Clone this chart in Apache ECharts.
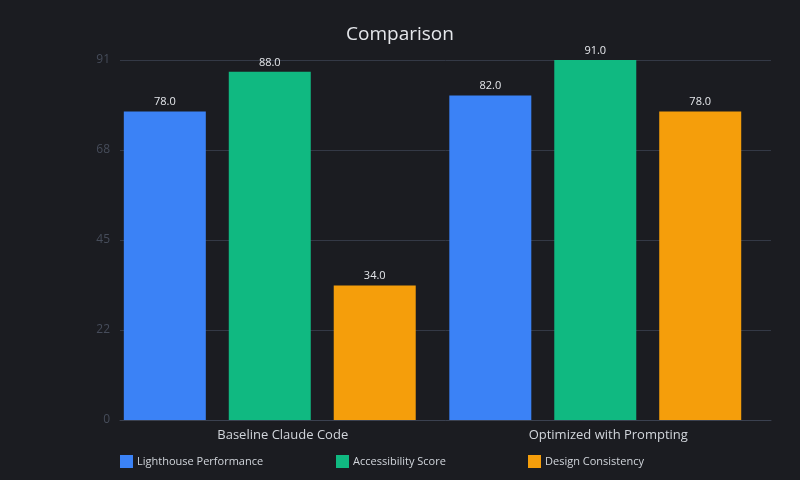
<!DOCTYPE html>
<html>
<head>
<meta charset="utf-8">
<script src="https://cdn.jsdelivr.net/npm/echarts@6/dist/echarts.min.js"></script>
<style>
  html, body { margin: 0; padding: 0; background: #1b1c21; }
  #chart { width: 800px; height: 480px; }
</style>
</head>
<body>
<div id="chart"></div>
<script>
const categories = ['Baseline Claude Code', 'Optimized with Prompting']
const seriesNames = ['Lighthouse Performance', 'Accessibility Score', 'Design Consistency']
const lighthouse = [78, 82]
const accessibility = [88, 91]
const consistency = [34, 78]
const colors = ['#3b82f6', '#10b981', '#f59e0b']
const legendLeft = [120, 336, 528]

const font = '"Open Sans", "Noto Sans", sans-serif'
const values = [lighthouse, accessibility, consistency]

const chart = echarts.init(document.getElementById('chart'))

const series = seriesNames.map((name, i) => ({
  name,
  type: 'bar',
  data: values[i],
  barWidth: 82,
  barGap: '28%',
  itemStyle: { color: colors[i] },
  label: {
    show: true,
    position: 'top',
    distance: 4,
    color: '#e5e7eb',
    fontSize: 11,
    fontFamily: font,
    formatter: (p) => p.value.toFixed(1),
  },
}))
// empty spacer so the bar group sits slightly left of the category centre
series.push({ name: '_spacer', type: 'bar', data: [], barWidth: 3 })

chart.setOption({
  backgroundColor: '#1b1c21',
  animation: false,
  title: {
    text: 'Comparison',
    left: 'center',
    top: 20,
    textStyle: { color: '#e5e7eb', fontSize: 19, fontWeight: 'normal', fontFamily: font },
  },
  legend: seriesNames.map((name, i) => ({
    data: [name],
    left: legendLeft[i],
    top: 455,
    padding: 0,
    itemWidth: 13,
    itemHeight: 13,
    itemGap: 4,
    icon: 'rect',
    textStyle: { color: '#d1d5db', fontSize: 11, fontFamily: font, padding: [0, 0, 0, -1] },
  })),
  grid: { left: 120, right: 29, top: 60, bottom: 60 },
  xAxis: {
    type: 'category',
    data: categories,
    axisLine: { lineStyle: { color: '#3b4150' } },
    axisTick: { show: false },
    axisLabel: { color: '#d1d5db', fontSize: 13, fontFamily: font, margin: 9 },
  },
  yAxis: {
    type: 'value',
    min: 0,
    max: 91,
    interval: 22.75,
    axisLine: { show: false },
    axisTick: { show: false },
    axisLabel: {
      color: '#464c5a',
      fontSize: 12,
      fontFamily: font,
      margin: 10,
      formatter: (v) => Math.floor(v),
    },
    splitLine: { lineStyle: { color: '#343946' } },
  },
  series,
})
</script>
</body>
</html>
